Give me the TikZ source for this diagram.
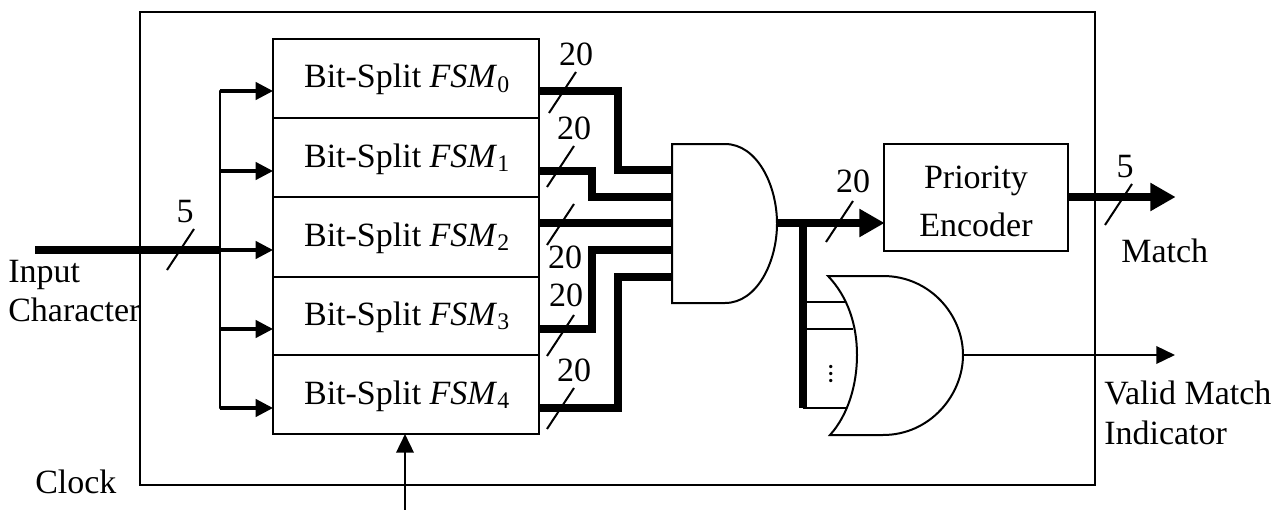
\documentclass[tikz,border=0pt]{standalone}
\usepackage{fontspec}
\setmainfont{Liberation Serif}
\usetikzlibrary{arrows.meta}
\tikzset{
  x=0.75pt,y=-0.75pt,
  thinline/.style={line width=1.5pt},
  medline/.style={line width=2.4pt},
  bus/.style={line width=5.6pt,line join=miter},
  slash/.style={line width=1.5pt},
  blockbox/.style={draw,line width=1.5pt,inner sep=0pt,outer sep=0pt,font=\lab},
  smallarrow/.style={medline,-{Triangle[length=13pt,width=13pt]}},
  busarrow/.style={bus,-{Triangle[length=19pt,width=20pt,sep=0pt]},shorten >=-0.5pt},
  thinarrow/.style={line width=1.9pt,-{Triangle[length=14pt,width=13pt]}},
  lbl/.style={anchor=base,inner sep=0pt,font=\lab},
  lblw/.style={anchor=base west,inner sep=0pt,font=\lab},
  gate/.style={draw,line width=1.5pt,fill=white},
}
\newcommand{\lab}{\fontsize{25.5pt}{29pt}\selectfont}
\newcommand{\fsmlabel}[1]{Bit-Split \textit{FSM}\textsubscript{#1}}
\begin{document}
\begin{tikzpicture}
\useasboundingbox (0,0) rectangle (1278,510);
% outer frame
\node[blockbox,minimum width=716.25pt,minimum height=354.75pt,anchor=north west] (frame) at (140,12) {};
% FSM stack
\foreach \i/\t/\h in {0/39/79,1/118/79,2/197/79.5,3/276.5/78.5,4/355/79}{
  \node[blockbox,minimum width=199.5pt,minimum height=\h*0.75pt,anchor=north west] (fsm\i) at (273,\t) {};
}
\foreach \i/\b in {0/88,1/167,2/246,3/325,4/404}{
  \node[lbl] (fsmt\i) at (407,\b) {\fsmlabel{\i}};
}
% priority encoder
\node[blockbox,minimum width=138pt,minimum height=80pt,anchor=north west,align=center] (enc) at (884,144) {};
\node[lbl] (enc1) at (976,188) {Priority};
\node[lbl] (enc2) at (976,236) {Encoder};
% coordinates
\foreach \n/\y in {0/91,1/171,2/250,3/329,4/408}{
  \coordinate (in\n) at (273,\y);
  \coordinate (sp\n) at (220,\y);
}
\foreach \n/\y in {0/91,1/171,2/223,3/329,4/408}{
  \coordinate (out\n) at (539,\y);
}
\foreach \n/\y in {0/170,1/197,2/223,3/250,4/277}{
  \coordinate (and\n) at (672,\y);
}
\coordinate (inp) at (35,250);
\coordinate (andout) at (777,223);
\coordinate (tap) at (803,223);
\coordinate (tapend) at (803,408);
\coordinate (or1) at (845,302);
\coordinate (or2) at (853,329);
\coordinate (or3) at (847,408);
\coordinate (orout) at (963,355);
\coordinate (valid) at (1175,355);
\coordinate (match) at (1175,197);
\coordinate (clk) at (405,510);
% input
\draw[thinline,line cap=round] (sp0) -- (sp4);
\foreach \n in {0,...,4}{\draw[smallarrow] (sp\n) -- (in\n);}
\draw[bus] (inp) -- (sp2);
% buses to AND
\draw[bus] (out0) -- (618,91) -- (618,170) -- (and0);
\draw[bus] (out1) -- (592,171) -- (592,197) -- (and1);
\draw[bus] (out2) -- (and2);
\draw[bus] (out3) -- (592,329) -- (592,250) -- (and3);
\draw[bus] (out4) -- (618,408) -- (618,277) -- (and4);
% AND gate
\draw[gate] (672,144) -- (725,144) .. controls (757,144) and (777,185) .. (777,223.5) .. controls (777,262) and (757,303) .. (725,303) -- (672,303) -- cycle;
% output
\draw[busarrow] (andout) -- (enc.west |- andout);
\draw[bus] (tap) -- (tapend);
\draw[thinline] (803,302) -- (or1);
\draw[thinline] (803,329) -- (or2);
\draw[thinline] (803,408) -- (or3);
% OR gate
\draw[gate] (828,276) -- (883,276) .. controls (930,276) and (963,315) .. (963,355) .. controls (963,395) and (930,435) .. (883,435) -- (830,435) .. controls (848,415) and (857,385) .. (857,355) .. controls (857,325) and (848,297) .. (828,276) -- cycle;
\node[rotate=90,inner sep=0pt,font=\fontsize{21pt}{21pt}\selectfont] (dots) at (831,374) {...};
% outputs
\draw[thinarrow] (orout) -- (valid);
\draw[busarrow] (enc.east |- match) -- (match);
\draw[thinarrow] (clk) -- (fsm4.south -| clk);
% slashes
\foreach \n/\x/\y in {a/167/270,b/549/113,c/547/187,d/547/245,e/547/356,f/547/429,g/826/242}{
  \draw[slash] (\x,\y) -- ++(27,-41);
}
\draw[slash] (1105,225) -- ++(27,-41);
% labels
\node[lbl] (n5a) at (185,222) {5};
\node[lbl] (n20a) at (576,66) {20};
\node[lbl] (n20b) at (574,139) {20};
\node[lbl] (n20c) at (565,268) {20};
\node[lbl] (n20d) at (566,306) {20};
\node[lbl] (n20e) at (574,381) {20};
\node[lbl] (n20f) at (853,192) {20};
\node[lbl] (n5b) at (1125,177) {5};
\node[lblw] (t1) at (8,282) {Input};
\node[lblw] (t2) at (8,321) {Character};
\node[lblw] (t3) at (35,493) {Clock};
\node[lblw] (t4) at (1121,262) {Match};
\node[lblw] (t5) at (1104,404) {Valid Match};
\node[lblw] (t6) at (1104,444) {Indicator};
\end{tikzpicture}
\end{document}
